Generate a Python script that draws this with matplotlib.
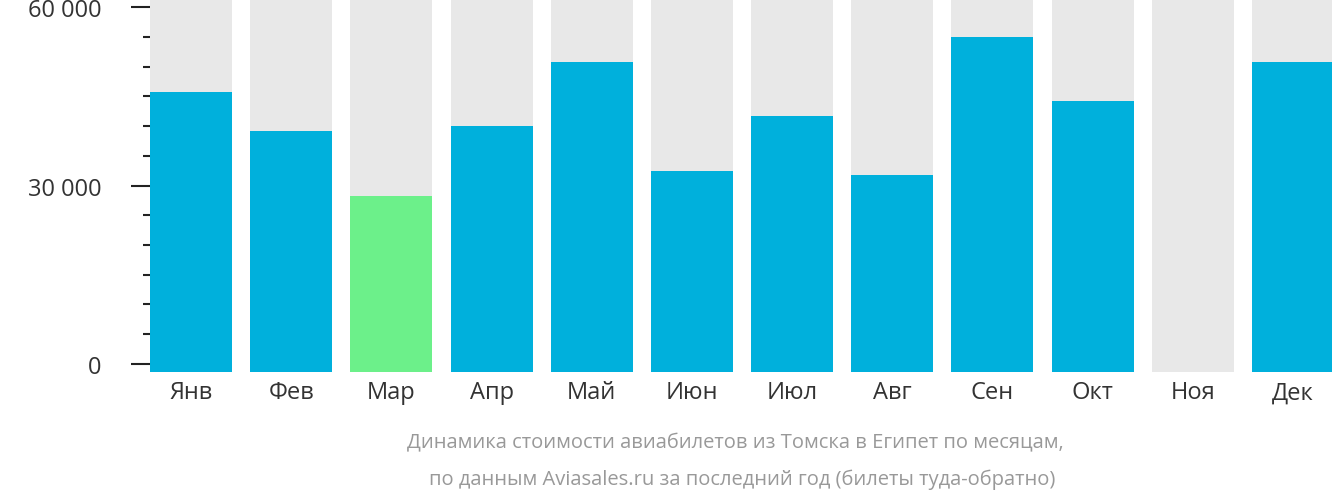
import matplotlib
matplotlib.use("Agg")
from matplotlib import pyplot as plt
from matplotlib.ticker import MultipleLocator, FuncFormatter

months = ['Янв', 'Фев', 'Мар', 'Апр', 'Май', 'Июн', 'Июл', 'Авг', 'Сен', 'Окт', 'Ноя', 'Дек']
prices = [45700, 39100, 28300, 40100, 50800, 32400, 41700, 31700, 55000, 44200, 0, 50800]
cheapest = 'Мар'

plt.rcParams['font.family'] = 'Open Sans'

fig = plt.figure(figsize=(13.32, 5.02), dpi=100)
ax = fig.add_axes([150 / 1332, (502 - 373) / 502, 1 - 150 / 1332, 373 / 502])

ymin, ymax = -1400, 61400
x = range(len(months))
ax.bar(x, [ymax - ymin] * len(months), bottom=ymin, width=0.82, color='#e8e8e8')
colors = ['#6cf08a' if m == cheapest else '#00b0dc' for m in months]
ax.bar(x, [p - ymin if p else 0 for p in prices], bottom=ymin, width=0.82, color=colors)

ax.set_xlim(-0.41, 11.39)
ax.set_ylim(ymin, ymax)
ax.set_xticks(list(x))
ax.set_xticklabels(months, fontsize=17, color='#333333')
ax.tick_params(axis='x', length=0, pad=6)

ax.yaxis.set_major_locator(MultipleLocator(30000))
ax.yaxis.set_minor_locator(MultipleLocator(5000))
ax.yaxis.set_major_formatter(FuncFormatter(lambda v, p: '{:,.0f} ₽'.format(v).replace(',', ' ')))
ax.tick_params(axis='y', which='major', length=14, width=1.5, color='#222222', labelsize=17,
               labelcolor='#333333', pad=6)
ax.tick_params(axis='y', which='minor', length=5, width=1.5, color='#222222')
for s in ax.spines.values():
    s.set_visible(False)

fig.text(735 / 1332, 1 - 443 / 502, 'Динамика стоимости авиабилетов из Томска в Египет по месяцам,',
         ha='center', va='center', fontsize=14.5, color='#999999')
fig.text(742 / 1332, 1 - 480 / 502, 'по данным Aviasales.ru за последний год (билеты туда-обратно)',
         ha='center', va='center', fontsize=14.5, color='#999999')

fig.savefig('out.png', dpi=100)
